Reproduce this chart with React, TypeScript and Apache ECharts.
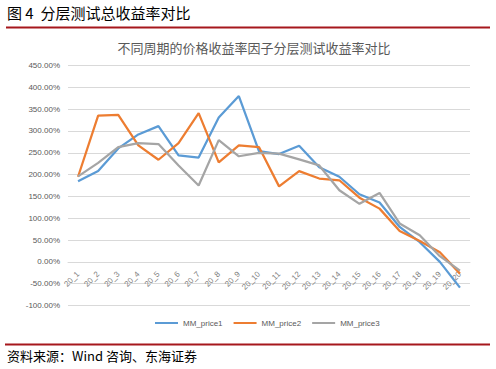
import React, { useEffect, useRef } from "react";
import * as echarts from "echarts";

const categories = ["20_1","20_2","20_3","20_4","20_5","20_6","20_7","20_8","20_9","20_10","20_11","20_12","20_13","20_14","20_15","20_16","20_17","20_18","20_19","20_20"];
const price1 = [185, 208, 260, 292, 311, 244, 239, 331, 380, 254, 247, 266, 217, 195, 155, 136, 80, 45, 0, -59];
const price2 = [195, 335, 337, 267, 234, 272, 341, 228, 267, 263, 173, 208, 191, 187, 147, 122, 71, 48, 22, -27];
const price3 = [196, 227, 263, 272, 270, 221, 175, 279, 242, 250, 248, 235, 221, 164, 133, 158, 88, 61, 13, -20];
const seriesNames = ["MM_price1", "MM_price2", "MM_price3"];
const colors = ["#5B9BD5", "#ED7D31", "#A5A5A5"];
const headerText = "图 4  分层测试总收益率对比";
const titleText = "不同周期的价格收益率因子分层测试收益率对比";
const footerText = "资料来源：Wind 咨询、东海证券";
const yMin = -100;

export default function App() {
  const ref = useRef<HTMLDivElement>(null);
  useEffect(() => {
    if (!ref.current) return;
    const chart = echarts.init(ref.current, null, { renderer: "svg" });
    const data = [price1, price2, price3];
    chart.setOption({
      animation: false,
      backgroundColor: "#ffffff",
      title: {
        text: titleText,
        left: 249,
        top: 36,
        textAlign: "center",
        textStyle: { fontSize: 13, fontWeight: "normal", color: "#595959", fontFamily: "Noto Sans CJK SC" },
      },
      legend: {
        data: seriesNames,
        left: 150,
        top: 314,
        itemWidth: 23,
        itemHeight: 2,
        itemGap: 11,
        icon: "rect",
        textStyle: { fontSize: 8, color: "#595959", fontFamily: "Liberation Sans" },
      },
      grid: { left: 68, right: 26, top: 65.5, bottom: 63.5 },
      xAxis: {
        type: "category",
        data: categories,
        boundaryGap: true,
        axisLine: { show: true, onZero: false, lineStyle: { color: "#D9D9D9" } },
        axisTick: { show: false },
        axisLabel: { rotate: 45, fontSize: 8, color: "#7F7F7F", margin: 11, interval: 0, fontFamily: "Liberation Sans" },
      },
      yAxis: {
        type: "value",
        min: yMin,
        max: 450,
        interval: 50,
        axisLine: { show: false },
        axisTick: { show: false },
        splitLine: { lineStyle: { color: "#D9D9D9" } },
        axisLabel: {
          fontSize: 8,
          color: "#595959",
          margin: 8,
          fontFamily: "Liberation Sans",
          formatter: (v: number) => v.toFixed(2) + "%",
        },
      },
      graphic: [
        {
          type: "text",
          left: 7,
          top: 5,
          style: { text: headerText, fontSize: 15, fill: "#000000", fontFamily: "Noto Sans CJK SC" },
        },
        {
          type: "rect",
          shape: { x: 6, y: 26.5, width: 484, height: 2 },
          style: { fill: "#A6171C" },
        },
        {
          type: "rect",
          shape: { x: 5, y: 343.5, width: 485, height: 2 },
          style: { fill: "#A6171C" },
        },
        {
          type: "text",
          left: 7,
          top: 349,
          style: { text: footerText, fontSize: 13, fill: "#000000", fontFamily: "Noto Sans CJK SC" },
        },
      ],
      series: seriesNames.map((name, i) => ({
        name,
        type: "line",
        data: data[i],
        symbol: "none",
        lineStyle: { width: 2.25, color: colors[i] },
        itemStyle: { color: colors[i] },
      })),
    });
    // move the category axis (with its labels) to the zero line, as in the original
    const yZero = chart.convertToPixel({ yAxisIndex: 0 }, 0) as number;
    const yBottom = chart.convertToPixel({ yAxisIndex: 0 }, yMin) as number;
    chart.setOption({ xAxis: { offset: yZero - yBottom } });
    return () => chart.dispose();
  }, []);
  return (
    <div style={{ position: "fixed", left: 0, top: 0, width: 496, height: 369 }}>
      <div ref={ref} style={{ width: 496, height: 369 }} />
    </div>
  );
}
